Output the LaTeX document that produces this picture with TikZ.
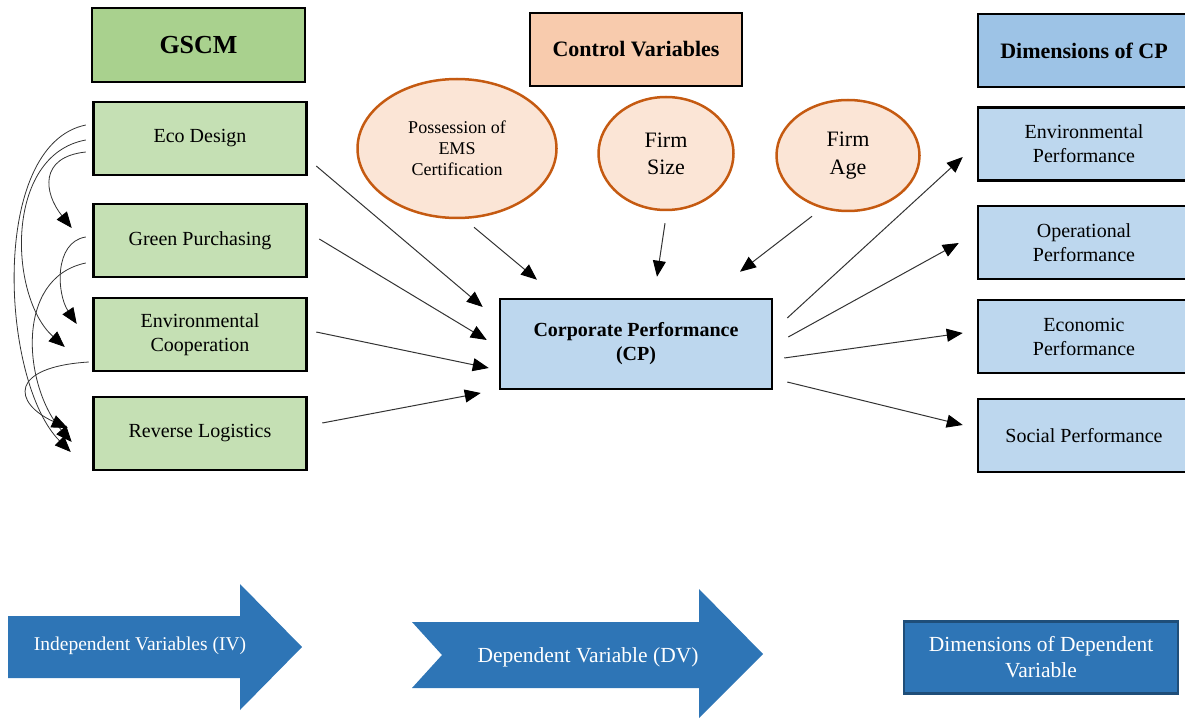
\documentclass[tikz,border=0pt]{standalone}
\usepackage{fontspec}
\setmainfont{Liberation Serif}
\usetikzlibrary{arrows.meta,shapes.geometric}

\definecolor{hijautua}{HTML}{A9D18E}
\definecolor{hijau}{HTML}{C5E0B4}
\definecolor{oranye}{HTML}{F8CBAD}
\definecolor{krem}{HTML}{FBE5D6}
\definecolor{cokelat}{HTML}{C55A11}
\definecolor{birumuda}{HTML}{BDD7EE}
\definecolor{birutua}{HTML}{9DC3E6}
\definecolor{biru}{HTML}{2E75B6}
\definecolor{birugelap}{HTML}{1F4E79}

\begin{document}
\begin{tikzpicture}[x=1pt,y=-1pt,
      kotak/.style={draw,line width=2.5pt,align=center,inner sep=2pt,
                    font=\fontsize{20}{24}\selectfont},
      judul/.style={kotak,font=\fontsize{22}{26}\selectfont\bfseries,
                    minimum width=212pt,minimum height=73pt},
      iv/.style={kotak,fill=hijau,minimum width=213pt,minimum height=73pt},
      dimensi/.style={kotak,fill=birumuda,minimum width=212pt,minimum height=73pt},
      oval/.style={ellipse,draw=cokelat,fill=krem,line width=2.5pt,align=center,
                   inner sep=1pt},
      panah/.style={-{Triangle[length=16pt,width=13pt,color=black]},
                    line width=1pt,draw=black!80},
      korelasi/.style={panah,line width=0.8pt},
      balok/.style={fill=biru},
      teksbalok/.style={text=white,align=center,font=\fontsize{21.5}{26}\selectfont}]

    \useasboundingbox (0,0) rectangle (1185,719);

    % --- Kolom kiri: GSCM dan empat dimensinya ------------------------------
    \node[judul,fill=hijautua,minimum width=213pt,minimum height=74pt,
          font=\fontsize{26}{30}\selectfont\bfseries] (gscm) at (198.5,45) {GSCM};
    \node[iv] (eco) at (200,138.5) {Eco Design};
    \node[iv] (gp) at (200,240.5) {Green Purchasing};
    \node[iv] (ec) at (200,334.5) {Environmental\\Cooperation};
    \node[iv] (rl) at (200,433.5) {Reverse Logistics};

    % --- Tengah: variabel kontrol dan CP -------------------------------------
    \node[judul,fill=oranye] (kontrol) at (636,49.5) {Control Variables};
    \node[oval,minimum width=199pt,minimum height=139pt,
          font=\fontsize{18}{21}\selectfont] (ems) at (457,148.5)
      {Possession of\\EMS\\Certification};
    \node[oval,minimum width=135pt,minimum height=113pt,
          font=\fontsize{22}{27}\selectfont] (ukuran) at (666,153.5) {Firm\\Size};
    \node[oval,minimum width=143pt,minimum height=111pt,
          font=\fontsize{22}{28}\selectfont] (umur) at (848,155.5) {Firm\\Age};
    \node[kotak,fill=birumuda,minimum width=272pt,minimum height=90pt,
          font=\fontsize{20}{24}\selectfont\bfseries] (cp) at (636,344)
      {Corporate Performance\\(CP)};

    % --- Kolom kanan: dimensi CP (sisi kanan terpotong tepi gambar) ---------
    \node[judul,fill=birutua] (dimcp) at (1084,50.5) {Dimensions of CP};
    \node[dimensi] (envp) at (1084,144) {Environmental\\Performance};
    \node[dimensi] (opp) at (1084,242.5) {Operational\\Performance};
    \node[dimensi] (ecop) at (1084,336.5) {Economic\\Performance};
    \node[dimensi] (socp) at (1084,435.5) {Social Performance};

    % --- Panah lurus ---------------------------------------------------------
    \draw[panah] ([shift={(8.5,27.5)}]eco.east) -- ([shift={(-16,-37)}]cp.west);
    \draw[panah] ([shift={(11.5,-1.5)}]gp.east) -- ([shift={(-12,-4)}]cp.west);
    \draw[panah] ([shift={(8.5,-2.5)}]ec.east) -- ([shift={(-10,24)}]cp.west);
    \draw[panah] ([shift={(14.5,-10.5)}]rl.east) -- ([shift={(-18,49)}]cp.west);
    \draw[panah] ([shift={(17,8)}]ems.south) -- ([shift={(-99,-18)}]cp.north);
    \draw[panah] ([shift={(-1,12)}]ukuran.south) -- ([shift={(21,-21)}]cp.north);
    \draw[panah] ([shift={(-36,4)}]umur.south) -- ([shift={(104,-26)}]cp.north);
    \draw[panah] ([shift={(14,-26)}]cp.east) -- ([shift={(-14,13)}]envp.west);
    \draw[panah] ([shift={(15,-7)}]cp.east) -- ([shift={(-18,0.5)}]opp.west);
    \draw[panah] ([shift={(11,14)}]cp.east) -- ([shift={(-14,-3.5)}]ecop.west);
    \draw[panah] ([shift={(14,38)}]cp.east) -- ([shift={(-14,-10.5)}]socp.west);

    % --- Korelasi antar dimensi GSCM (lengkung di kiri) ---------------------
    \draw[korelasi] ([shift={(-6.5,13.5)}]eco.west)
      .. controls +(-47,5) and +(-28,-35) .. ([shift={(-20.5,-12.5)}]gp.west);
    \draw[korelasi] ([shift={(-6.5,1.5)}]eco.west)
      .. controls +(-82,15) and +(-56,-50) .. ([shift={(-27.5,12.5)}]ec.west);
    \draw[korelasi] ([shift={(-6.5,-13.5)}]eco.west)
      .. controls +(-97,20) and +(-70,-70) .. ([shift={(-21.5,18.5)}]rl.west);
    \draw[korelasi] ([shift={(-6.5,-3.5)}]gp.west)
      .. controls +(-32,5) and +(-20,-30) .. ([shift={(-15.5,-10.5)}]ec.west);
    \draw[korelasi] ([shift={(-6.5,22.5)}]gp.west)
      .. controls +(-72,15) and +(-48,-55) .. ([shift={(-20.5,8.5)}]rl.west);
    \draw[korelasi] ([shift={(-3.5,27.5)}]ec.west)
      .. controls +(-80,5) and +(-55,-25) .. ([shift={(-24.5,-5.5)}]rl.west);

    % --- Baris bawah: keterangan IV, DV dan dimensi --------------------------
    \fill[balok] (8,616) -- (240,616) -- (240,584) -- (302,647) -- (240,710)
      -- (240,678) -- (8,678) -- cycle;
    \node[teksbalok,font=\fontsize{19.5}{24}\selectfont] (ivlabel) at (140,646)
      {Independent Variables (IV)};
    \fill[balok] (412,622) -- (699,622) -- (699,589) -- (763,654) -- (699,718)
      -- (699,688) -- (412,688) -- (442,655) -- cycle;
    \node[teksbalok] (dvlabel) at (588,657) {Dependent Variable (DV)};
    \node[teksbalok,fill=biru,draw=birugelap,line width=2.5pt,
          minimum width=274pt,minimum height=72pt] (dimlabel) at (1041,657.5)
      {Dimensions of Dependent\\Variable};
  \end{tikzpicture}
\end{document}
